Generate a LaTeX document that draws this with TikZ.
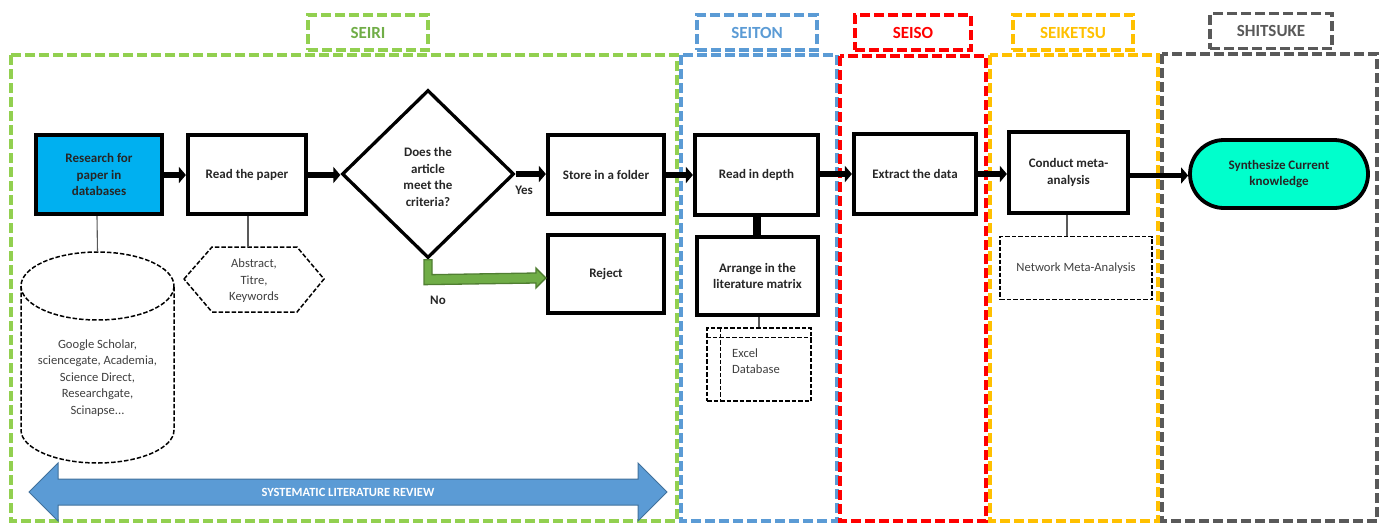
\documentclass[tikz,border=0pt]{standalone}
\usepackage{fontspec}
\setmainfont{Carlito}
\usetikzlibrary{arrows.meta,shapes.geometric,calc}
\definecolor{seiri}{RGB}{146,208,80}
\definecolor{seiritxt}{RGB}{112,173,71}
\definecolor{seiton}{RGB}{91,155,213}
\definecolor{seiso}{RGB}{255,0,0}
\definecolor{seiketsu}{RGB}{255,192,0}
\definecolor{shitsuke}{RGB}{89,89,89}
\definecolor{resfill}{RGB}{0,176,240}
\definecolor{synfill}{RGB}{0,255,204}
\definecolor{nodetxt}{RGB}{38,38,38}
\definecolor{subtxt}{RGB}{64,64,64}
\definecolor{greenfill}{RGB}{112,173,71}
\definecolor{greenline}{RGB}{80,126,50}
\definecolor{slrfill}{RGB}{91,155,213}
\definecolor{slrline}{RGB}{65,113,156}
\tikzset{
  phasebox/.style={line width=3.3pt, dash pattern=on 10pt off 4pt},
  phaselabel/.style={line width=3.3pt, dash pattern=on 10pt off 4pt, minimum width=120pt, minimum height=35pt, inner sep=0pt, font=\bfseries\fontsize{17}{20}\selectfont},
  stepbox/.style={draw, line width=4.2pt, align=center, inner sep=2pt, text=nodetxt, font=\bfseries\fontsize{13}{16.5}\selectfont},
  subtext/.style={align=center, inner sep=0pt, text=subtxt, font=\fontsize{12.6}{16.6}\selectfont},
  dashline/.style={line width=1.5pt, dash pattern=on 4.5pt off 2pt},
  thinconn/.style={draw=shitsuke, line width=1.1pt},
  flow/.style={line width=5.5pt, -{Triangle[length=7pt,width=16pt]}},
}
\begin{document}
\begin{tikzpicture}[x=1pt,y=-1pt]
\useasboundingbox (0,0) rectangle (1384,523);
% phase frames
\draw[phasebox, seiri] (11,55) rectangle (677,521);
\draw[phasebox, seiton] (681,55) rectangle (837,521);
\draw[phasebox, seiso] (840,56) rectangle (986,521);
\draw[phasebox, seiketsu] (990,55) rectangle (1158,521);
\draw[phasebox, shitsuke] (1162,54) rectangle (1377,521);
% phase labels
\node[phaselabel, draw=seiri, text=seiritxt] (lseiri) at (368,32.5) {SEIRI};
\node[phaselabel, draw=seiton, text=seiton] (lseiton) at (757,32.5) {SEITON};
\node[phaselabel, draw=seiso, text=seiso, minimum width=116pt] (lseiso) at (913,32.5) {SEISO};
\node[phaselabel, draw=seiketsu, text=seiketsu] (lseiketsu) at (1073,32.5) {SEIKETSU};
\node[phaselabel, draw=shitsuke, text=shitsuke, minimum width=122pt] (lshitsuke) at (1271,31) {SHITSUKE};
% main steps
\node[stepbox, fill=resfill, minimum width=126pt, minimum height=79pt] (res) at (99,174.5) {Research for\\paper in\\databases};
\node[stepbox, minimum width=118pt, minimum height=79pt] (readp) at (247,174.5) {Read the paper};
\node[draw, diamond, line width=3.3pt, minimum width=172pt, minimum height=168pt, inner sep=0pt] (dia) at (428,174) {};
\node[align=center, inner sep=0pt, text=nodetxt, font=\bfseries\fontsize{13}{16.4}\selectfont] (diatxt) at (428,177) {Does the\\article\\meet the\\criteria?};
\node[stepbox, minimum width=116pt, minimum height=79pt] (store) at (606,174.5) {Store in a folder};
\node[stepbox, minimum width=116pt, minimum height=78pt] (reject) at (606,274) {Reject};
\node[stepbox, minimum width=123pt, minimum height=80pt] (readd) at (756.5,175) {Read in depth};
\node[stepbox, minimum width=121pt, minimum height=78pt] (arrange) at (757.5,276) {Arrange in the\\literature matrix};
\node[stepbox, minimum width=122pt, minimum height=80pt] (extract) at (915,174) {Extract the data};
\node[stepbox, minimum width=119pt, minimum height=81pt] (conduct) at (1068.5,172.5) {Conduct meta-\\analysis};
\node[stepbox, line width=3.8pt, fill=synfill, rounded corners=34pt, minimum width=178pt, minimum height=68pt] (synth) at (1279,174) {Synthesize Current\\knowledge};
% database cylinder
\draw[dashline] (21,286) -- (21,430) arc[start angle=180, end angle=0, x radius=76.5, y radius=33] -- (174,286);
\draw[dashline] (97.5,286) ellipse[x radius=76.5, y radius=34];
\coordinate (dbtop) at (97.5,252);
\node[subtext] (db) at (97.5,378) {Google Scholar,\\sciencegate, Academia,\\Science Direct,\\Researchgate,\\Scinapse...};
% hexagon
\node[subtext] (hex) at (254,281) {Abstract,\\Titre,\\Keywords};
\draw[dashline] (184,279) -- (212,247) -- (297,247) -- (324,279) -- (297,312) -- (212,312) -- cycle;
\coordinate (hextop) at (248,247);
% excel internal storage
\node[draw, dashline, minimum width=104pt, minimum height=73pt, inner sep=0pt] (excel) at (759,364.5) {};
\draw[dashline] ($(excel.north west)+(14,0)$) -- ($(excel.south west)+(14,0)$);
\draw[dashline] ($(excel.north west)+(0,10)$) -- ($(excel.north east)+(0,10)$);
\node[subtext, align=left, anchor=west] (exceltxt) at (732,361) {Excel\\Database};
% network meta-analysis
\node[draw, dashline, minimum width=152pt, minimum height=63pt, inner sep=0pt, subtext] (nma) at (1076,268) {Network Meta-Analysis};
% thin connectors
\draw[thinconn] ($(res.south)+(-2,0)$) -- (dbtop);
\draw[thinconn] (readp.south -| hextop) -- (hextop);
\draw[thinconn] (arrange.south -| 759,0) -- (excel.north -| 759,0);
\draw[thinconn] (conduct.south -| 1067,0) -- (nma.north -| 1067,0);
% flow arrows
\draw[flow] (res.east |- 0,175) -- (readp.west |- 0,175);
\draw[flow] (readp.east |- 0,175) -- (dia.west |- 0,175);
\draw[flow] (dia.east) -- (store.west |- dia.east);
\draw[flow] (store.east |- 0,175) -- (readd.west |- 0,175);
\draw[flow] (readd.east |- 0,174) -- (extract.west |- 0,174);
\draw[flow] (extract.east |- 0,174) -- (conduct.west |- 0,174);
\draw[flow] (conduct.east |- 0,175.5) -- (synth.west |- 0,175.5);
\draw[line width=8pt] (readd.south) -- (readd.south |- arrange.north);
% yes / no labels
\node[text=nodetxt, font=\bfseries\fontsize{13}{15}\selectfont, inner sep=0pt] (yes) at (524,190) {Yes};
\node[text=nodetxt, font=\bfseries\fontsize{13}{15}\selectfont, inner sep=0pt] (no) at (438,300) {No};
% green elbow arrow
\draw[fill=greenfill, draw=greenline, line width=1.3pt, line join=miter]
  ($(dia.south)+(-4,0)$) -- ($(dia.south)+(4,0)$) -- ($(dia.south)+(4,15)$)
  -- ($(reject.west)+(-10,-1)$) -- ($(reject.west)+(-10,-6)$) -- ($(reject.west)+(0,4)$)
  -- ($(reject.west)+(-10,14)$) -- ($(reject.west)+(-10,9)$) -- ($(dia.south)+(-4,25)$) -- cycle;
% systematic literature review double arrow
\coordinate (slrL) at (29,492);
\coordinate (slrR) at (667,492);
\draw[fill=slrfill, draw=slrline, line width=1pt, line join=miter]
  (slrL) -- ($(slrL)+(29,-29)$) -- ($(slrL)+(29,-13)$) -- ($(slrR)+(-29,-13)$) -- ($(slrR)+(-29,-29)$)
  -- (slrR) -- ($(slrR)+(-29,29)$) -- ($(slrR)+(-29,13)$) -- ($(slrL)+(29,13)$) -- ($(slrL)+(29,29)$) -- cycle;
\node[text=white, font=\bfseries\fontsize{12.5}{15}\selectfont, inner sep=0pt] (slr) at (348,492) {SYSTEMATIC LITERATURE REVIEW};
\end{tikzpicture}
\end{document}
